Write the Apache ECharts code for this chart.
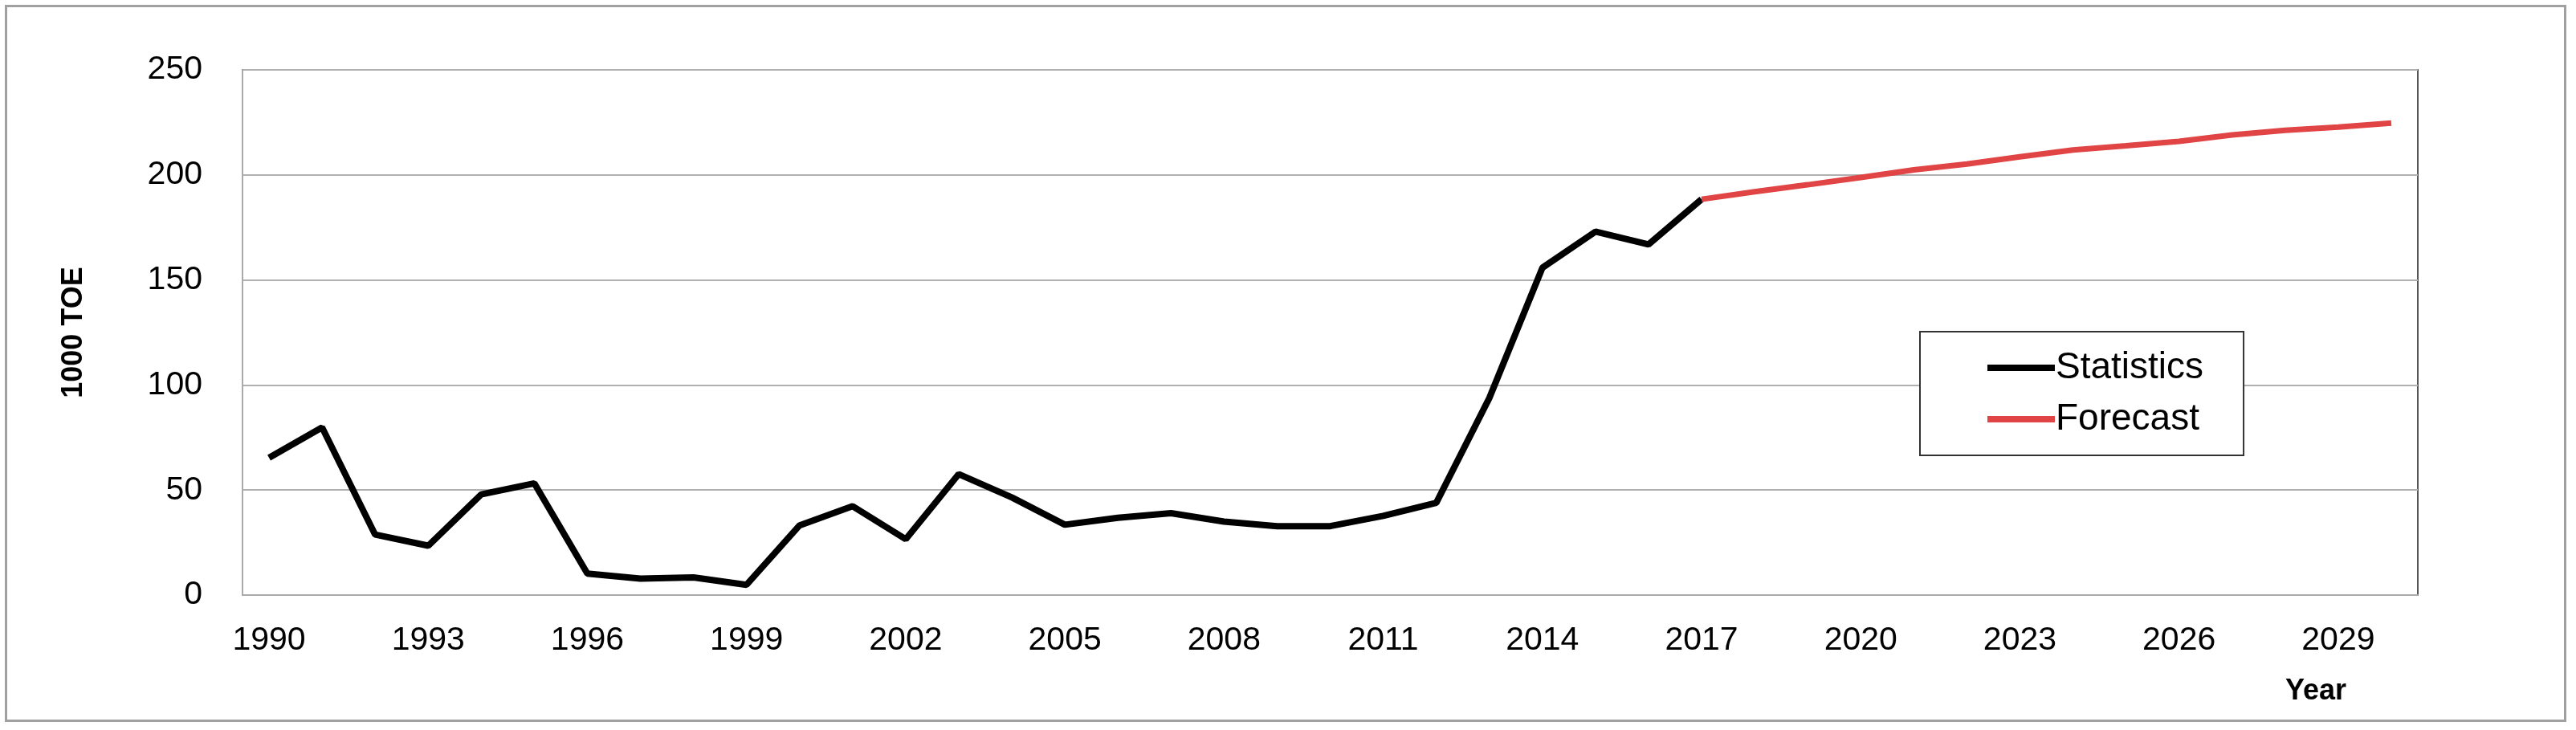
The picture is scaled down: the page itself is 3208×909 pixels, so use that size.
<!DOCTYPE html>
<html>
<head>
<meta charset="utf-8">
<script src="https://cdn.jsdelivr.net/npm/echarts@6/dist/echarts.min.js"></script>
<style>
  html, body { margin: 0; padding: 0; background: #fff; }
  #frame { position: absolute; left: 6px; top: 6px; width: 3190px; height: 893px; border: 3px solid #a0a0a0; box-sizing: border-box; }
  #chart { position: absolute; left: 0; top: 0; width: 3208px; height: 909px; }
</style>
</head>
<body>
<div id="frame"></div>
<div id="chart"></div>
<script>
var years = [];
for (var y = 1990; y <= 2030; y++) { years.push(String(y)); }

// 1990 - 2017
var statistics = [65.4, 79.8, 28.8, 23.5, 47.9, 53.2, 10.2, 7.8, 8.4, 4.9,
    33.2, 42.3, 26.6, 57.6, 46.5, 33.5, 36.8, 39.0, 35.0, 32.8,
    32.8, 37.7, 43.9, 93.8, 155.8, 173.0, 166.9, 188.4];
// 2017 - 2030
var forecast = [188.4, 192.0, 195.3, 198.8, 202.4, 205.2, 208.6, 211.9, 213.9,
    216.0, 219.0, 221.2, 222.8, 224.7];

var forecastData = [];
for (var i = 0; i < years.length; i++) {
    var k = i - (statistics.length - 1);
    forecastData.push(k >= 0 ? forecast[k] : null);
}

var font = 'Liberation Sans';
var myChart = echarts.init(document.getElementById('chart'));
var option = {
    animation: false,
    grid: { left: 302, right: 197, top: 87, bottom: 168, show: true, borderColor: '#555', borderWidth: 2 },
    legend: {
        orient: 'vertical',
        left: 2391, top: 413,
        padding: [22, 50, 22, 84],
        itemGap: 18,
        icon: 'rect',
        itemWidth: 84, itemHeight: 8,
        borderColor: '#333', borderWidth: 2,
        backgroundColor: '#fff',
        textStyle: { fontFamily: font, fontSize: 46, color: '#000', padding: [0, 0, 0, -4] },
        data: ['Statistics', 'Forecast']
    },
    xAxis: {
        type: 'category',
        data: years,
        boundaryGap: true,
        name: 'Year',
        nameLocation: 'end',
        nameGap: 0,
        nameTextStyle: { fontFamily: font, fontSize: 36, fontWeight: 'bold', color: '#000', padding: [102, 0, 0, -165], verticalAlign: 'top' },
        axisLine: { lineStyle: { color: '#aaa', width: 2 } },
        axisTick: { show: false },
        axisLabel: { interval: 2, margin: 36, fontFamily: font, fontSize: 41, color: '#000' }
    },
    yAxis: {
        type: 'value',
        min: 0, max: 250, interval: 50,
        name: '1000 TOE',
        nameLocation: 'middle',
        nameGap: 192,
        nameTextStyle: { fontFamily: font, fontSize: 36, fontWeight: 'bold', color: '#000' },
        axisLine: { show: true, lineStyle: { color: '#aaa', width: 2 } },
        axisTick: { show: false },
        splitLine: { lineStyle: { color: '#b0b0b0', width: 2 } },
        axisLabel: { margin: 50, fontFamily: font, fontSize: 41, color: '#000' }
    },
    series: [
        {
            name: 'Statistics', type: 'line', data: statistics,
            symbol: 'none', lineStyle: { color: '#000', width: 8 }, itemStyle: { color: '#000' }
        },
        {
            name: 'Forecast', type: 'line', data: forecastData,
            symbol: 'none', lineStyle: { color: '#e04444', width: 7 }, itemStyle: { color: '#e04444' }
        }
    ]
};
myChart.setOption(option);
</script>
</body>
</html>
